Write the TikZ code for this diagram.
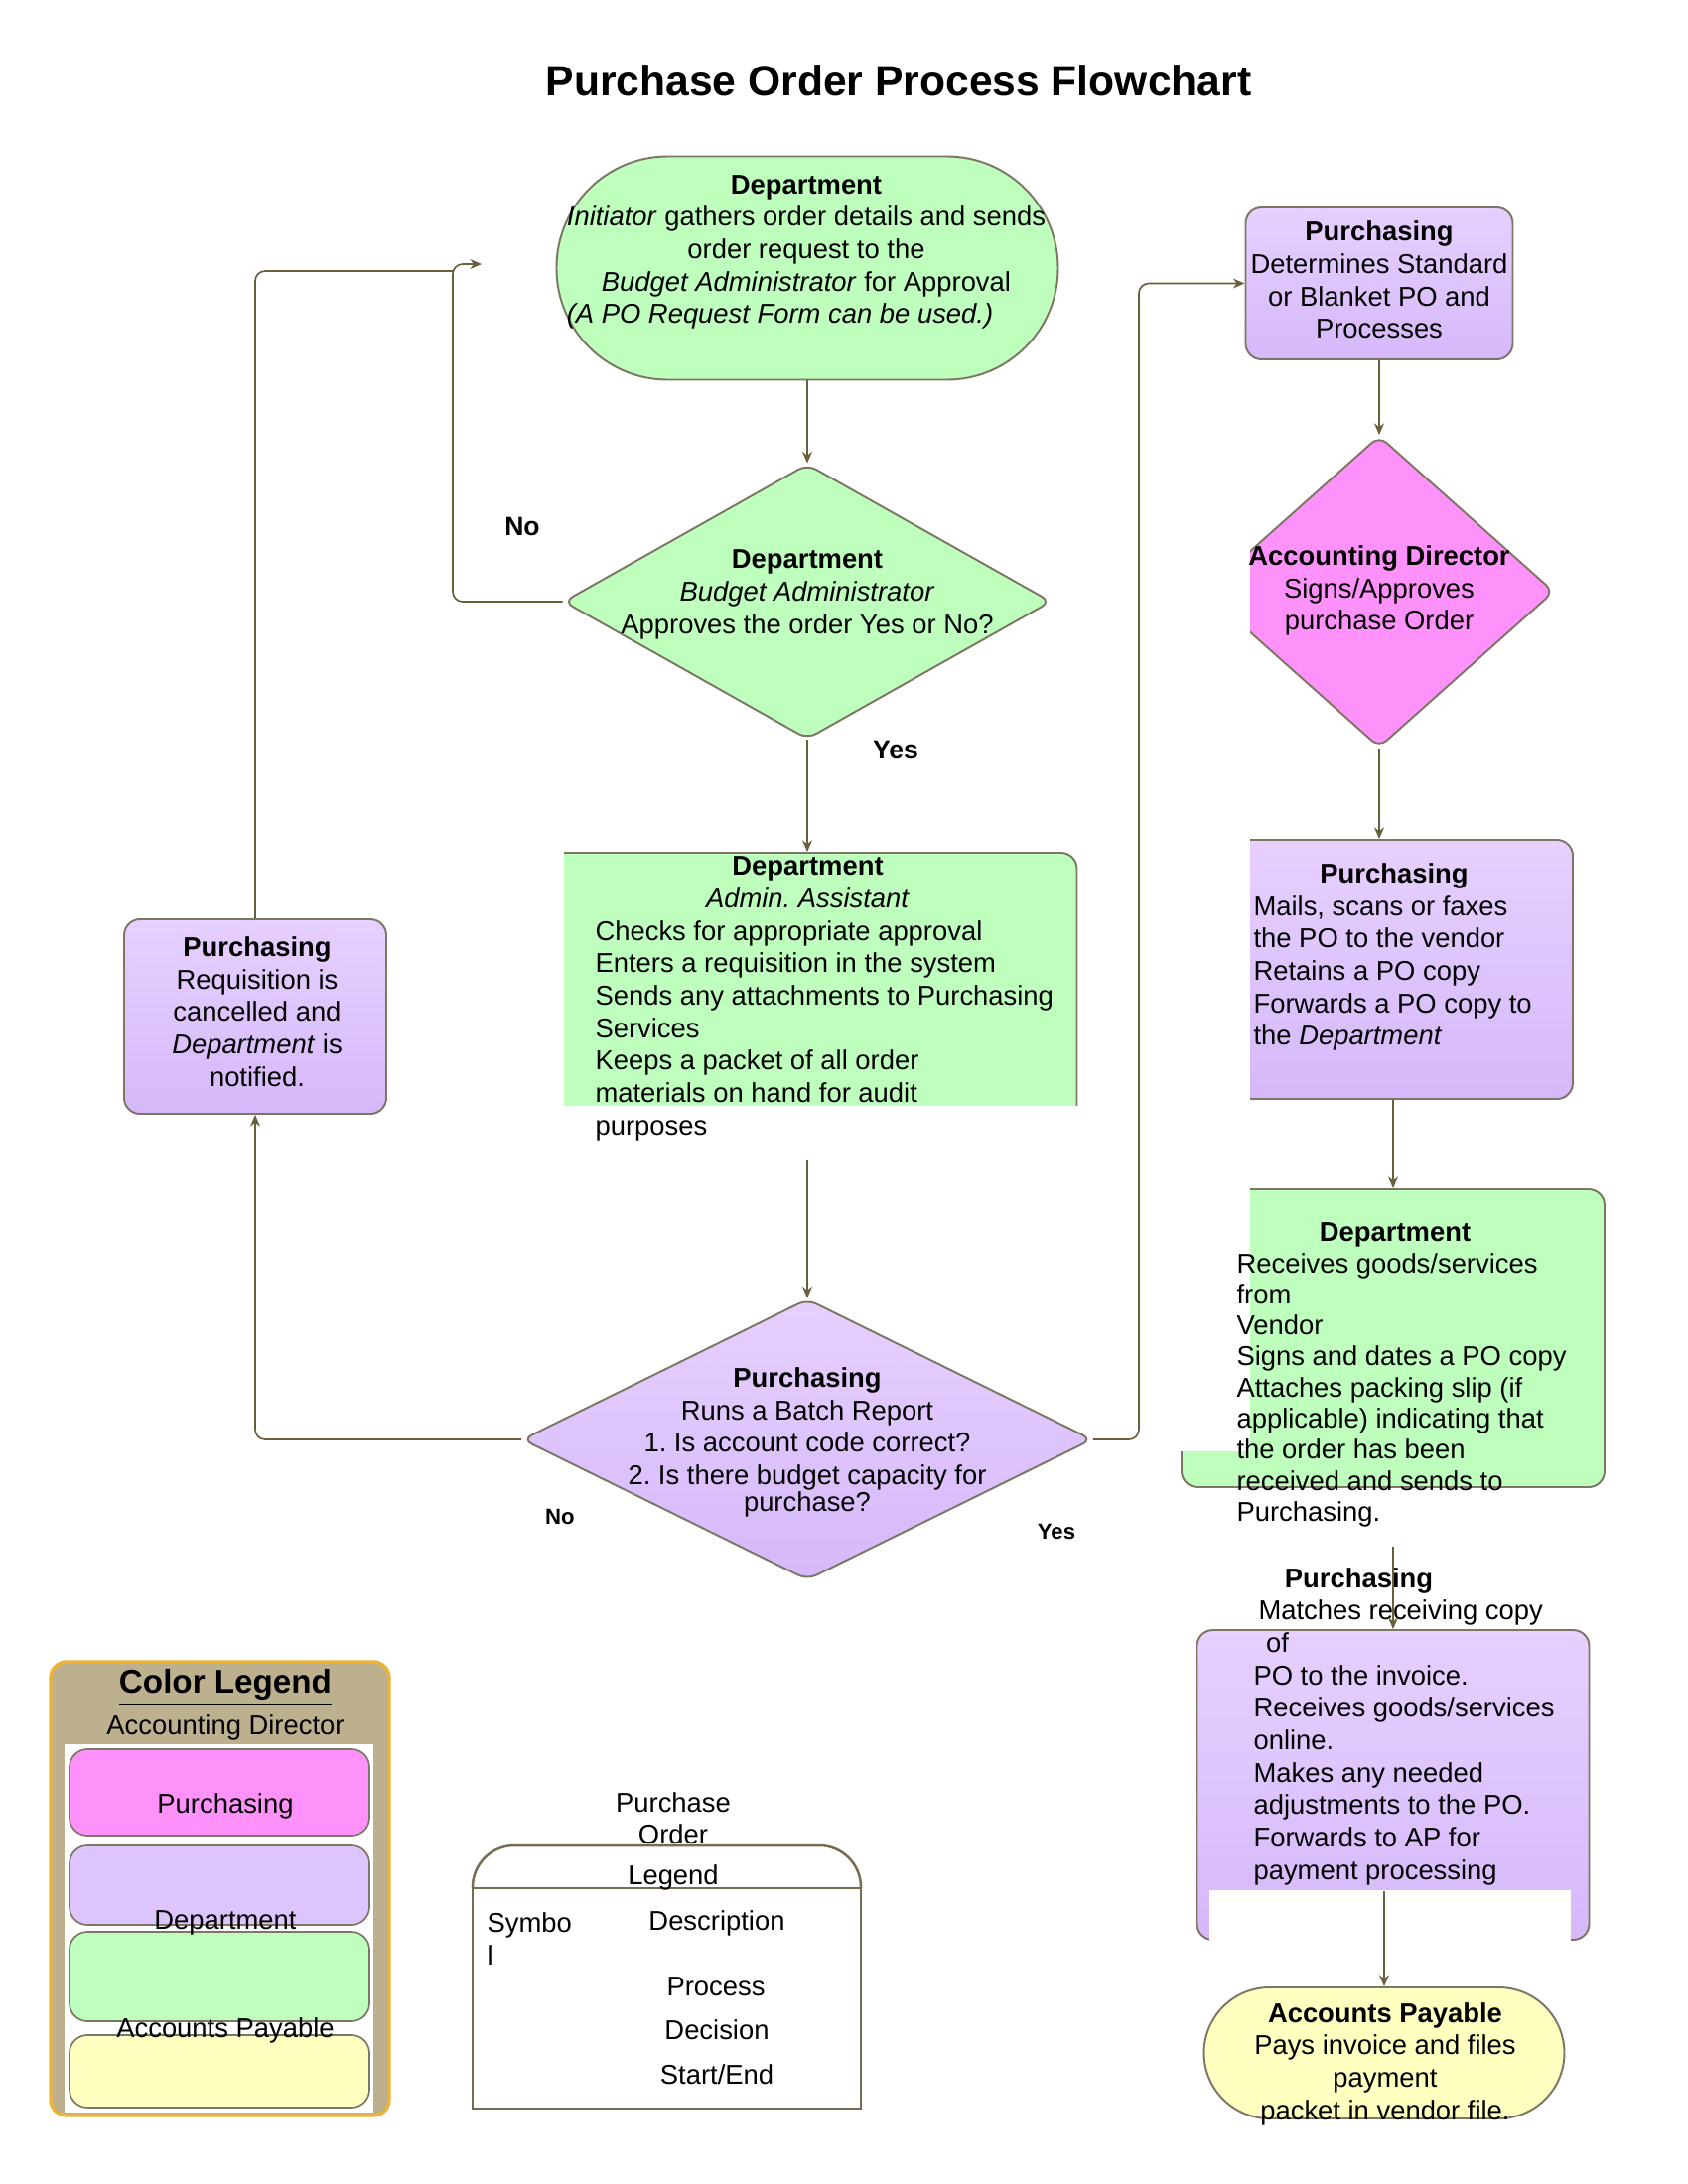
\documentclass[tikz,border=0pt]{standalone}
\usepackage{fontspec}
\setmainfont{Liberation Sans}
\usetikzlibrary{shapes,arrows.meta}

\definecolor{deptgreen}{RGB}{190,255,190}
\definecolor{purpletop}{RGB}{230,208,255}
\definecolor{purplebot}{RGB}{214,184,250}
\definecolor{purplemid}{RGB}{222,196,252}
\definecolor{acctpink}{RGB}{255,145,250}
\definecolor{apyellow}{RGB}{255,255,192}
\definecolor{edgegray}{RGB}{125,118,100}
\definecolor{arrowbrown}{RGB}{105,95,60}
\definecolor{legendtan}{RGB}{189,176,143}
\definecolor{legendgold}{RGB}{235,180,50}
\definecolor{symbrown}{RGB}{120,108,80}

\newlength{\upx}
\setlength{\upx}{0.127mm}

\begin{document}
\begin{tikzpicture}[x=0.127mm, y=-0.127mm, >={Stealth[length=4.2pt,width=3.6pt]}]
		\tikzstyle{body} = [font=\fontsize{9.9}{11.8}\selectfont, inner sep=0pt, align=center]
		\tikzstyle{leftbody} = [body, align=left, anchor=west]
		\tikzstyle{edged} = [draw=edgegray, line width=0.7pt, inner sep=0pt]
		\tikzstyle{procbox} = [edged, rectangle, rounded corners=16\upx]
		\tikzstyle{decision} = [edged, diamond, rounded corners=10\upx]
		\tikzstyle{purple} = [top color=purpletop, bottom color=purplebot]
		\tikzstyle{flow} = [->, draw=arrowbrown, line width=0.6pt, rounded corners=10\upx]
		\tikzstyle{answer} = [font=\bfseries\fontsize{9.6}{11}\selectfont, inner sep=0pt]
		\tikzstyle{smallanswer} = [font=\bfseries\fontsize{8}{9}\selectfont, inner sep=0pt]
		\tikzstyle{swatch} = [draw=edgegray, line width=0.6pt, rounded corners=18\upx]
		\tikzstyle{symbox} = [draw=symbrown, line width=0.9pt]

		% page
		\fill[white] (0,0) rectangle (1700,2200);
		\useasboundingbox (0,0) rectangle (1700,2200);
		\node[font=\bfseries\fontsize{15.4}{18}\selectfont] (title) at (905,81) {Purchase Order Process Flowchart};

		% left column
		\node[procbox, fill=deptgreen, rounded corners=112\upx, minimum width=505\upx, minimum height=225\upx] (start) at (813,270) {};
		\node[body] (start-text) at (812,254) {\textbf{Department}\\ \textit{Initiator} gathers order details and sends\\ order request to the\\ \textit{Budget Administrator} for Approval\\ \textit{(A PO Request Form can be used.)}\hspace*{53\upx}};

		\node[decision, fill=deptgreen, minimum width=491\upx, minimum height=277\upx] (budget) at (813,606) {};
		\node[body] (budget-text) at (813,599) {\textbf{Department}\\ \textit{Budget Administrator}\\ Approves the order Yes or No?};

		\begin{scope}
			\clip (568,800) rectangle (1111,1113);
			\node[procbox, fill=deptgreen, minimum width=543\upx, minimum height=281\upx] (assistant) at (813,999.5) {};
		\end{scope}
		\node[leftbody] (assistant-text) at (599,1006) {\makebox[428\upx]{\textbf{Department}}\\ \makebox[428\upx]{\textit{Admin.\ Assistant}}\\ Checks for appropriate approval\\ Enters a requisition in the system\\ Sends any attachments to Purchasing\\ Services\\ Keeps a packet of all order\\ materials on hand for audit\\ purposes};

		\node[decision, purple, minimum width=574\upx, minimum height=283\upx] (batch) at (813,1450) {};
		\node[body] (batch-text) at (813,1453) {\textbf{Purchasing}\\ Runs a Batch Report\\ 1.\ Is account code correct?\\ 2.\ Is there budget capacity for\\[-2pt] purchase?};

		\node[procbox, purple, minimum width=264\upx, minimum height=196\upx] (cancel) at (257,1024) {};
		\node[body] (cancel-text) at (259,1019) {\textbf{Purchasing}\\ Requisition is\\ cancelled and\\ \textit{Department} is\\ notified.};

		% right column
		\node[procbox, purple, minimum width=269\upx, minimum height=153\upx] (standard) at (1389,285.5) {};
		\node[body] (standard-text) at (1389,282) {\textbf{Purchasing}\\ Determines Standard\\ or Blanket PO and\\ Processes};

		\begin{scope}
			\clip (1259,400) rectangle (1700,1462) (1111,1462) rectangle (1700,1520);
			\node[decision, fill=acctpink, minimum width=352\upx, minimum height=314\upx] (director) at (1389,596) {};
			\node[procbox, purple, minimum width=352\upx, minimum height=261\upx] (mail) at (1408,976.5) {};
			\node[procbox, fill=deptgreen, minimum width=426\upx, minimum height=300\upx] (receive) at (1403,1348) {};
		\end{scope}
		\node[body] (director-text) at (1389,595) {\textbf{Accounting Director}\\ Signs/Approves\\ purchase Order};
		\node[leftbody] (mail-text) at (1262,964) {\makebox[283\upx]{\textbf{Purchasing}}\\ Mails, scans or faxes\\ the PO to the vendor\\ Retains a PO copy\\ Forwards a PO copy to\\ the \textit{Department}};
		\node[leftbody, font=\fontsize{9.9}{11.3}\selectfont] (receive-text) at (1245,1385) {\makebox[319\upx]{\textbf{Department}}\\ Receives goods/services\\ from\\ Vendor\\ Signs and dates a PO copy\\ Attaches packing slip (if\\ applicable) indicating that\\ the order has been\\ received and sends to\\ Purchasing.};

		\node[procbox, purple, minimum width=395\upx, minimum height=312\upx] (match) at (1403,1798) {};
		\fill[white] (1218,1904) rectangle (1582,1962);
		\node[leftbody] (match-text) at (1262,1739) {\makebox[212\upx]{\textbf{Purchasing}}\\ \hspace*{5\upx}Matches receiving copy\\ \hspace*{5\upx} of\\ PO to the invoice.\\ Receives goods/services\\ online.\\ Makes any needed\\ adjustments to the PO.\\ Forwards to AP for\\ payment processing};

		\node[procbox, fill=apyellow, rounded corners=66\upx, minimum width=363\upx, minimum height=132\upx] (payable) at (1394,2068) {};
		\node[body] (payable-text) at (1395,2079) {\textbf{Accounts Payable}\\ Pays invoice and files\\ payment\\ packet in vendor file.};

		% connections
		\coordinate (no-turn) at (456,266);
		\coordinate (no-in) at (485,266);
		\coordinate (no-join) at (456,273);
		\draw[flow] (start.south) -- (budget.north);
		\draw[flow] (budget.south) -- (assistant.north);
		\draw[flow] (budget.west) -| (no-turn) -- (no-in);
		\draw[flow, -] (cancel.north) |- (no-join);
		\draw[flow] (assistant.south) ++(0,27) -- (batch.north);
		\draw[flow] (batch.west) -| (cancel.south);
		\draw[flow] (batch.east) -- ++(46,0) |- (standard.west);
		\draw[flow] (standard.south) -- (director.north);
		\draw[flow] (director.south) -- (director.south |- mail.north);
		\draw[flow] (mail.south -| receive.north) -- (receive.north);
		\draw[flow] (receive.south -| match.north) ++(0,59) -- (match.north);
		\draw[flow] (match.south -| payable.north) ++(0,-50) -- (payable.north);

		% answers
		\node[answer] (no-top) at (526,530) {No};
		\node[answer] (yes-top) at (902,755) {Yes};
		\node[smallanswer] (no-bottom) at (564,1528) {No};
		\node[smallanswer] (yes-bottom) at (1064,1543) {Yes};

		% color legend
		\draw[draw=legendgold, fill=legendtan, line width=1.2pt, rounded corners=16\upx] (51,1674) rectangle (392,2131);
		\fill[white] (65,1757) rectangle (376,2128);
		\foreach \ya/\yb/\col in {1762/1849/acctpink, 1859/1939/purplemid, 1946/2036/deptgreen, 2050/2123/apyellow}
			\draw[swatch, fill=\col] (70,\ya) rectangle (372,\yb);
		\node[font=\bfseries\fontsize{12}{14}\selectfont] (legend-title) at (227,1700) {\underline{Color Legend}};
		\node[body] (legend-director) at (227,1740) {Accounting Director};
		\node[body] (legend-purchasing) at (227,1819) {Purchasing};
		\node[body] (legend-department) at (227,1937) {Department};
		\node[body] (legend-payable) at (227,2045) {Accounts Payable};

		% symbol legend
		\draw[symbox, rounded corners=42\upx] (476,1902) -- (476,1859) -- (867,1859) -- (867,1902);
		\draw[symbox] (476,1902) rectangle (867,2124);
		\node[body] (symbol-title) at (678,1855) {Purchase\\ Order\\[3pt] Legend};
		\node[leftbody] (symbol-head) at (490,1953) {Symbo\\ l};
		\node[body] (symbol-desc) at (722,1937) {Description};
		\node[body] (symbol-process) at (721,2001) {Process};
		\node[body] (symbol-decision) at (722,2045) {Decision};
		\node[body] (symbol-startend) at (722,2090) {Start/End};
	\end{tikzpicture}
\end{document}
